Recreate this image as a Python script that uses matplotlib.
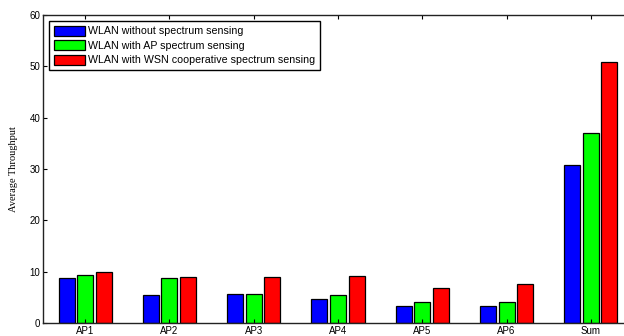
import numpy as np
from matplotlib import pyplot as plt

# Data
categories = ['AP1', 'AP2', 'AP3', 'AP4', 'AP5', 'AP6', 'Sum']
no_sensing = [8.8, 5.4, 5.6, 4.6, 3.25, 3.4, 30.7]
ap_sensing = [9.4, 8.8, 5.7, 5.4, 4.0, 4.0, 37.0]
wsn_sensing = [9.9, 8.9, 8.9, 9.1, 6.8, 7.6, 50.9]
series_names = ['WLAN without spectrum sensing',
                'WLAN with AP spectrum sensing',
                'WLAN with WSN cooperative spectrum sensing']

plt.rcParams['font.family'] = ['Liberation Sans', 'DejaVu Sans']

fig = plt.figure(figsize=(6.24, 3.36), dpi=100)
ax = fig.add_axes([43 / 624, 13 / 336, 590 / 624, 308 / 336])

x = np.arange(1, len(categories) + 1)
w = 0.19
off = 0.22
for vals, c, name, d in zip([no_sensing, ap_sensing, wsn_sensing],
                            ['#0000ff', '#00ff00', '#ff0000'],
                            series_names, [-off, 0, off]):
    ax.bar(x + d, vals, w, color=c, edgecolor='black', linewidth=0.9, label=name)

ax.set_xlim(0.5, 7.5)
ax.set_ylim(0, 60)
ax.set_xticks(x)
ax.set_xticklabels(categories)
ax.set_yticks(range(0, 61, 10))
ax.tick_params(direction='in', top=True, right=True, labelsize=7, length=3,
               pad=2, width=0.8)
for s in ax.spines.values():
    s.set_linewidth(1.0)
    s.set_color('#222222')

ax.set_ylabel('Average Throughput', family='Liberation Serif', fontsize=7.5,
              labelpad=8)

leg = ax.legend(loc='upper left', fontsize=7.7, handlelength=2.9, handleheight=1.1,
                borderaxespad=0.55, fancybox=False, framealpha=1,
                edgecolor='black', borderpad=0.45, labelspacing=0.35,
                handletextpad=0.35)
leg.get_frame().set_linewidth(1.0)

plt.savefig('out.png', dpi=100)
